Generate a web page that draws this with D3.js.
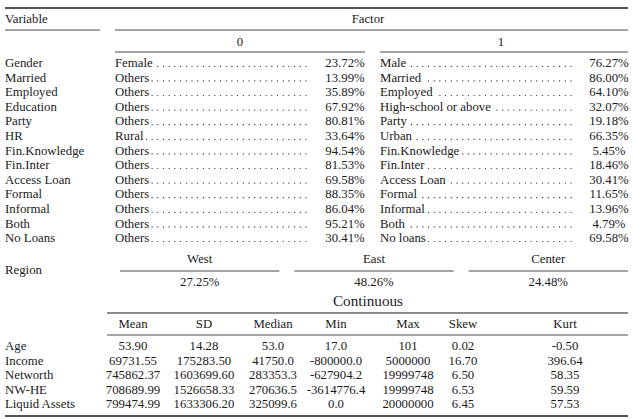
<!DOCTYPE html>
<html><head><meta charset="utf-8">
<script src="https://cdn.jsdelivr.net/npm/d3@7"></script>
<style>
html,body{margin:0;padding:0;background:#fff;}
svg text{font-family:"Liberation Serif","Times New Roman",serif;fill:#1a1a1a;}
</style></head>
<body><svg id="c" width="633" height="419"></svg>
<script>
// ---- data ----
const variables = ["Gender","Married","Employed","Education","Party","HR","Fin.Knowledge","Fin.Inter","Access Loan","Formal","Informal","Both","No Loans"];
const labels0 = ["Female","Others","Others","Others","Others","Rural","Others","Others","Others","Others","Others","Others","Others"];
const pct0 = [23.72,13.99,35.89,67.92,80.81,33.64,94.54,81.53,69.58,88.35,86.04,95.21,30.41];
const labels1 = ["Male","Married","Employed","High-school or above","Party","Urban","Fin.Knowledge","Fin.Inter","Access Loan","Formal","Informal","Both","No loans"];
const pct1 = [76.27,86.00,64.10,32.07,19.18,66.35,5.45,18.46,30.41,11.65,13.96,4.79,69.58];
const regions = ["West","East","Center"];
const regionPct = [27.25,48.26,24.48];
const contVars = ["Age","Income","Networth","NW-HE","Liquid Assets"];
const statNames = ["Mean","SD","Median","Min","Max","Skew","Kurt"];
const statDecimals = [2,2,1,1,0,2,2];
const meanV = [53.90,69731.55,745862.37,708689.99,799474.99];
const sdV = [14.28,175283.50,1603699.60,1526658.33,1633306.20];
const medianV = [53.0,41750.0,283353.3,270636.5,325099.6];
const minV = [17.0,-800000.0,-627904.2,-3614776.4,0.0];
const maxV = [101,5000000,19999748,19999748,20000000];
const skewV = [0.02,16.70,6.50,6.53,6.45];
const kurtV = [-0.50,396.64,58.35,59.59,57.53];
const statCols = [meanV,sdV,medianV,minV,maxV,skewV,kurtV];

// ---- layout ----
const svg = d3.select("#c");
const FS = 12.8;
const L = 5, R = 628;
const ink = "#1a1a1a";
function rule(x1,x2,y,w){svg.append("line").attr("x1",x1).attr("x2",x2).attr("y1",y).attr("y2",y).attr("stroke",ink).attr("stroke-width",w);}
function txt(x,y,s,anchor,size){return svg.append("text").attr("x",x).attr("y",y).attr("text-anchor",anchor||"start").attr("font-size",size||FS).text(s);}

// header
rule(L,R,8,1.3);
txt(L,23,"Variable");
txt(368,23,"Factor","middle");
rule(L,100,30,0.8);
rule(115,R,30,0.8);
txt(240,46,"0","middle");
txt(501,46,"1","middle");
rule(115,365,52,0.8);
rule(380,R,52,0.8);

const y = d3.scaleLinear().domain([0,variables.length-1]).range([67,67+12*14.6]);
const fmtPct = v => v.toFixed(2)+"%";
const dotGap = 5.7;
function leaders(xStart,xEnd,yy){
  const xs=[];
  for(let x=xEnd; x>xStart+2; x-=dotGap) xs.push(x);
  svg.append("g").selectAll("circle").data(xs).join("circle")
    .attr("cx",d=>d).attr("cy",yy-0.7).attr("r",0.62).attr("fill",ink);
}
variables.forEach((v,i)=>{
  const yy=y(i);
  txt(L,yy,v);
  const t0=txt(115,yy,labels0[i]);
  leaders(115+t0.node().getComputedTextLength(),306,yy);
  txt(345,yy,fmtPct(pct0[i]),"middle");
  const t1=txt(380,yy,labels1[i]);
  leaders(380+t1.node().getComputedTextLength(),571,yy);
  txt(609,yy,fmtPct(pct1[i]),"middle");
});

// region
const rx = d3.scaleBand().domain(regions).range([120,628]).paddingInner(0.085);
txt(L,274,"Region");
regions.forEach((r,i)=>{
  const x0=rx(r), x1=x0+rx.bandwidth(), cx=(x0+x1)/2;
  txt(cx,263,r,"middle");
  rule(x0,x1,271,0.8);
  txt(cx,286,fmtPct(regionPct[i]),"middle");
});

// continuous
txt(368,306,"Continuous","middle",15.2);
rule(107,R,313,1.1);
const colX = d3.scaleOrdinal().domain(statNames).range([133,204,273,336,408,463,565]);
statNames.forEach(s=>txt(colX(s),328,s,"middle"));
rule(107,R,335,0.8);
const yc = d3.scaleLinear().domain([0,contVars.length-1]).range([350,350+4*14.6]);
contVars.forEach((v,i)=>{
  const yy=yc(i);
  txt(L,yy,v);
  statNames.forEach((s,j)=>{
    txt(colX(s),yy,statCols[j][i].toFixed(statDecimals[j]),"middle");
  });
});
rule(L,R,416,1.4);
</script></body></html>
